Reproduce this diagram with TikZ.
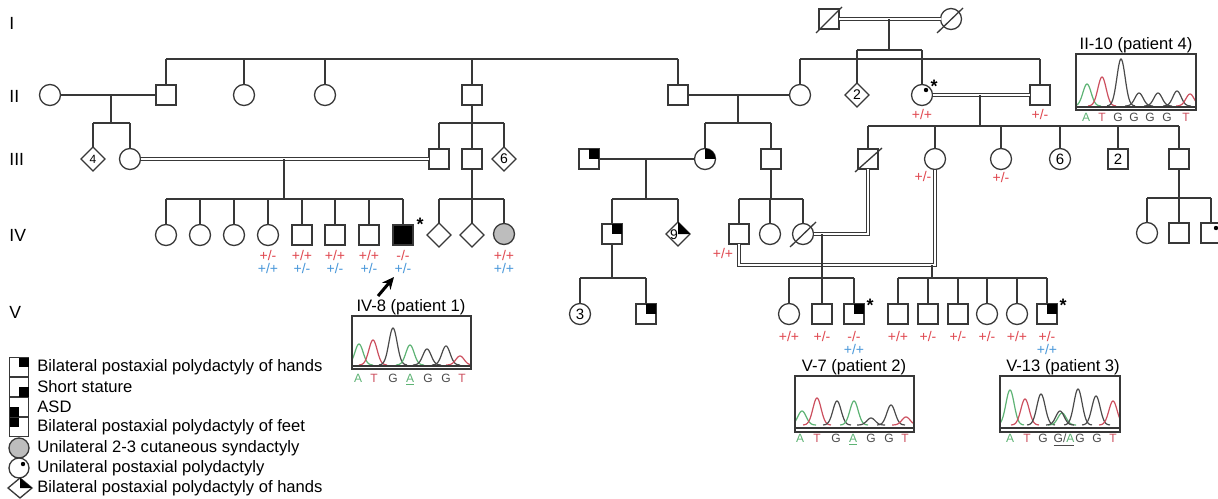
\documentclass[tikz,border=0pt]{standalone}
\usepackage{fontspec}
\setmainfont{Liberation Sans}
\usetikzlibrary{shapes.geometric,calc,arrows.meta}
\definecolor{lc}{HTML}{383838}
\definecolor{gred}{HTML}{E04850}
\definecolor{gblue}{HTML}{4A98DA}
\definecolor{cgreen}{HTML}{5DB374}
\definecolor{cred}{HTML}{CC4F5E}
\definecolor{cgrey}{HTML}{4A4A4A}
\definecolor{sgrey}{HTML}{BDBDBD}
\newcommand\pk[4]{%
 \pgfmathsetmacro\pka{#2-14}\pgfmathsetmacro\pkb{#2+14}%
 \draw[#1,line width=0.6pt] plot[domain=\pka:\pkb,samples=41,smooth] (\x,{#4-#3*exp(-(\x-#2)*(\x-#2)/34)});}
\begin{document}
\begin{tikzpicture}[x=0.5pt,y=-0.5pt,
 pl/.style={draw=lc,line width=0.65pt},
 dbl/.style={draw=lc,line width=0.5pt,double=white,double distance=0.9pt},
 sym/.style={draw=lc,line width=0.65pt,fill=white,inner sep=0pt,outer sep=0pt},
 sq/.style={sym,rectangle,minimum size=10pt},
 ci/.style={sym,circle,minimum size=10.5pt},
 di/.style={sym,diamond,minimum width=12pt,minimum height=12pt},
 num/.style={font=\fontsize{7}{8}\selectfont},
 gr/.style={font=\fontsize{7}{8}\selectfont,text=gred,inner sep=0pt},
 gb/.style={font=\fontsize{7}{8}\selectfont,text=gblue,inner sep=0pt},
 genl/.style={font=\fontsize{8.8}{10}\selectfont,anchor=west,inner sep=0pt},
 legt/.style={font=\fontsize{8.3}{10}\selectfont,anchor=west,inner sep=0pt},
 astr/.style={font=\bfseries\fontsize{9}{10}\selectfont,inner sep=0pt},
 ttl/.style={font=\fontsize{8.3}{10}\selectfont,anchor=south,inner sep=0.3pt},
 bl/.style={font=\fontsize{6}{7}\selectfont,inner sep=0pt,anchor=base},
 cbox/.style={draw=lc,line width=0.85pt},
]
\fill[white] (0,0) rectangle (1218,498);
\useasboundingbox (0,0) rectangle (1218,498);

% helper coordinates
\coordinate (yA) at (0,59);
\coordinate (yB) at (0,50);
\coordinate (yC) at (0,123);
\coordinate (yD) at (0,126);
\coordinate (yE) at (0,199);
\coordinate (yE2) at (0,198);
\coordinate (yF) at (0,278);
\coordinate (yG) at (0,265);

% generation labels
\node[genl] (gI) at (9,23) {I};
\node[genl] (gII) at (9,96) {II};
\node[genl] (gIII) at (9,159) {III};
\node[genl] (gIV) at (9,235) {IV};
\node[genl] (gV) at (9,312) {V};

% Generation I
\node[sq] (I1) at (829,19) {};
\node[ci] (I2) at (951,19) {};

% Generation II
\node[ci] (IIa) at (50,95) {};
\node[sq] (IIb) at (166,95) {};
\node[ci] (IIc) at (244,95) {};
\node[ci] (IId) at (325,95) {};
\node[sq] (IIe) at (472,95) {};
\node[sq] (IIf) at (678,95) {};
\node[ci] (IIg) at (800,95) {};
\node[di,num] (IIh) at (857,95) {2};
\node[ci] (IIi) at (922,95) {};
\node[sq] (IIj) at (1040,95) {};

% Generation III
\node[di,font=\fontsize{6}{7}\selectfont] (IIIa) at (93,159) {4};
\node[ci] (IIIb) at (130,159) {};
\node[sq] (IIIc) at (439,159) {};
\node[sq] (IIId) at (472,159) {};
\node[di,num] (IIIe) at (504,159) {6};
\node[sq] (IIIf) at (589,159) {};
\node[ci] (IIIg) at (705,159) {};
\node[sq] (IIIh) at (771,159) {};
\node[sq] (IIIi) at (868,159) {};
\node[ci] (IIIj) at (935,159) {};
\node[ci] (IIIk) at (1001,159) {};
\node[ci,font=\fontsize{7.5}{8}\selectfont] (IIIl) at (1060,159) {6};
\node[sq,font=\fontsize{7.5}{8}\selectfont] (IIIm) at (1118,159) {2};
\node[sq] (IIIn) at (1179,159) {};

% Generation IV
\node[ci] (IVa) at (166,235) {};
\node[ci] (IVb) at (200,235) {};
\node[ci] (IVc) at (234,235) {};
\node[ci] (IVd) at (268,235) {};
\node[sq] (IVe) at (302,235) {};
\node[sq] (IVf) at (335,235) {};
\node[sq] (IVg) at (369,235) {};
\node[sq,fill=black] (IVh) at (403,235) {};
\node[di] (IVi) at (439,235) {};
\node[di] (IVj) at (472,235) {};
\node[ci,fill=sgrey] (IVk) at (504,234) {};
\node[sq] (IVl) at (612,234) {};
\node[di] (IVm) at (678,234) {};
\node[sq] (IVn) at (739,234) {};
\node[ci] (IVo) at (770,234) {};
\node[ci] (IVp) at (803,234) {};
\node[ci] (IVq) at (1147,233) {};
\node[sq] (IVr) at (1179,233) {};
\node[sq] (IVs) at (1211,233) {};

% Generation V
\node[ci,font=\fontsize{7.5}{8}\selectfont] (Va) at (580,314) {3};
\node[sq] (Vb) at (646,314) {};
\node[ci] (Vc) at (789,314) {};
\node[sq] (Vd) at (822,314) {};
\node[sq] (Ve) at (854,314) {};
\node[sq] (Vf) at (898,314) {};
\node[sq] (Vg) at (928,314) {};
\node[sq] (Vh) at (958,314) {};
\node[ci] (Vi) at (987,314) {};
\node[ci] (Vj) at (1017,314) {};
\node[sq] (Vk) at (1047,314) {};

% ---- connectors ----
\draw[dbl] (I1.east) -- (I2.west);
\coordinate (mI) at (889,19);
\draw[pl] (mI) -- (mI |- yB);
\draw[pl] (IIh.north |- yB) -- (IIi.north |- yB);
\foreach \n in {IIh,IIi} \draw[pl] (\n.north) -- (\n.north |- yB);
\draw[pl] (IIb.north |- yA) -- (IIf.north |- yA);
\foreach \n in {IIb,IIc,IId,IIe,IIf} \draw[pl] (\n.north) -- (\n.north |- yA);
\draw[pl] (IIg.north |- yA) -- (IIj.north |- yA);
\foreach \n in {IIg,IIj} \draw[pl] (\n.north) -- (\n.north |- yA);

\draw[pl] (IIa.east) -- (IIb.west);
\coordinate (m1) at (111,95);
\draw[pl] (m1) -- (m1 |- yC);
\draw[pl] (IIIa.north |- yC) -- (IIIb.north |- yC);
\foreach \n in {IIIa,IIIb} \draw[pl] (\n.north) -- (\n.north |- yC);
\draw[pl] (IIe.south) -- (IIId.north);
\draw[pl] (IIIc.north |- yC) -- (IIIe.north |- yC);
\foreach \n in {IIIc,IIIe} \draw[pl] (\n.north) -- (\n.north |- yC);
\draw[pl] (IIf.east) -- (IIg.west);
\coordinate (m2) at (738,95);
\draw[pl] (m2) -- (m2 |- yC);
\draw[pl] (IIIg.north |- yC) -- (IIIh.north |- yC);
\foreach \n in {IIIg,IIIh} \draw[pl] (\n.north) -- (\n.north |- yC);
\draw[dbl] (IIi.east) -- (IIj.west);
\coordinate (m3) at (980,95);
\draw[pl] (m3) -- (m3 |- yD);
\draw[pl] (IIIi.north |- yD) -- (IIIn.north |- yD);
\foreach \n in {IIIi,IIIj,IIIk,IIIl,IIIm,IIIn} \draw[pl] (\n.north) -- (\n.north |- yD);

\draw[dbl] (IIIb.east) -- (IIIc.west);
\coordinate (m4) at (284,159);
\draw[pl] (m4) -- (m4 |- yE);
\draw[pl] (IVa.north |- yE) -- (IVh.north |- yE);
\foreach \n in {IVa,IVb,IVc,IVd,IVe,IVf,IVg,IVh} \draw[pl] (\n.north) -- (\n.north |- yE);
\draw[pl] (IIId.south) -- (IIId.south |- yE);
\draw[pl] (IVi.north |- yE) -- (IVk.north |- yE);
\foreach \n in {IVi,IVj,IVk} \draw[pl] (\n.north) -- (\n.north |- yE);
\draw[pl] (IIIf.east) -- (IIIg.west);
\coordinate (m5) at (646,159);
\draw[pl] (m5) -- (m5 |- yE);
\draw[pl] (IVl.north |- yE) -- (IVm.north |- yE);
\foreach \n in {IVl,IVm} \draw[pl] (\n.north) -- (\n.north |- yE);
\draw[pl] (IIIh.south) -- (IIIh.south |- yE);
\draw[pl] (IVn.north |- yE) -- (IVp.north |- yE);
\foreach \n in {IVn,IVo,IVp} \draw[pl] (\n.north) -- (\n.north |- yE);
\draw[pl] (IIIn.south) -- (IIIn.south |- yE2);
\draw[pl] (IVq.north |- yE2) -- (IVs.north |- yE2);
\foreach \n in {IVq,IVr,IVs} \draw[pl] (\n.north) -- (\n.north |- yE2);

\draw[dbl] (IIIi.south) -- (IIIi.south |- IVp.east) -- (IVp.east);
\draw[dbl] (IVn.south) -- (IVn.south |- yG) -- (IIIj.south |- yG) -- (IIIj.south);
\coordinate (m6) at (822,234);
\draw[pl] (m6) -- (m6 |- yF);
\draw[pl] (Vc.north |- yF) -- (Ve.north |- yF);
\foreach \n in {Vc,Vd,Ve} \draw[pl] (\n.north) -- (\n.north |- yF);
\coordinate (m7) at (932,265);
\draw[pl] (m7) -- (m7 |- yF);
\draw[pl] (Vf.north |- yF) -- (Vk.north |- yF);
\foreach \n in {Vf,Vg,Vh,Vi,Vj,Vk} \draw[pl] (\n.north) -- (\n.north |- yF);
\draw[pl] (IVl.south) -- (IVl.south |- yF);
\draw[pl] (Va.north |- yF) -- (Vb.north |- yF);
\foreach \n in {Va,Vb} \draw[pl] (\n.north) -- (\n.north |- yF);

% ---- affection marks ----
\foreach \n in {IIIf,IVl,Vb,Ve,Vk} \fill[black] (\n.center) rectangle (\n.north east);
\begin{scope}
 \clip (IIIg.center) circle (5.25pt);
 \fill[black] (IIIg.center) rectangle ($(IIIg.center)+(12,-12)$);
\end{scope}
\fill[black] (IVm.center) -- (IVm.north) -- (IVm.east) -- cycle;
\node[num,inner sep=0pt] (n9) at (674,235) {9};
\fill[black] ($(IIi.center)+(4,-5)$) circle (1.1pt);
\fill[black] ($(IVs.center)+(5,-5)$) circle (1.1pt);

% deceased slashes
\draw[pl] ($(I1.center)+(-13,14)$) -- ($(I1.center)+(13,-12)$);
\draw[pl] ($(I2.center)+(-14,14)$) -- ($(I2.center)+(12,-11)$);
\draw[pl] ($(IIIi.center)+(-13,13)$) -- ($(IIIi.center)+(14,-11)$);
\draw[pl] ($(IVp.center)+(-13,13)$) -- ($(IVp.center)+(13,-12)$);

% stars
\node[astr] (s1) at (934,86) {*};
\node[astr] (s2) at (420,224) {*};
\node[astr] (s3) at (870,305) {*};
\node[astr] (s4) at (1063,305) {*};

% genotypes
\node[gr] (a1) at (922,114) {+/+};
\node[gr] (a2) at (1040,114) {+/-};
\node[gr] (a3) at (923,176) {+/-};
\node[gr] (a4) at (1001,177) {+/-};
\node[gr] (b1) at (268,255) {+/-};
\node[gr] (b2) at (302,255) {+/+};
\node[gr] (b3) at (335,255) {+/+};
\node[gr] (b4) at (369,255) {+/+};
\node[gr] (b5) at (403,255) {-/-};
\node[gr] (b6) at (504,255) {+/+};
\node[gr] (b7) at (723,253) {+/+};
\node[gb] (c1) at (268,268) {+/+};
\node[gb] (c2) at (302,268) {+/-};
\node[gb] (c3) at (335,268) {+/-};
\node[gb] (c4) at (369,268) {+/-};
\node[gb] (c5) at (403,268) {+/-};
\node[gb] (c6) at (504,268) {+/+};
\node[gr] (d1) at (789,336) {+/+};
\node[gr] (d2) at (822,336) {+/-};
\node[gr] (d3) at (854,336) {-/-};
\node[gr] (d4) at (898,336) {+/+};
\node[gr] (d5) at (928,336) {+/-};
\node[gr] (d6) at (958,336) {+/-};
\node[gr] (d7) at (987,336) {+/-};
\node[gr] (d8) at (1017,336) {+/+};
\node[gr] (d9) at (1047,336) {+/-};
\node[gb] (e1) at (854,349) {+/+};
\node[gb] (e2) at (1047,349) {+/+};

% arrow to IV-8
\coordinate (arA) at (378,296);
\coordinate (arB) at (394,277);
\draw[line width=1.5pt,-{Stealth[length=6pt,width=5.5pt]}] (arA) -- (arB);

% ---- chromatogram II-10 ----
\node[ttl] (t4) at (1136,54) {II-10 (patient 4)};
\begin{scope}
\clip (1076,54) rectangle (1196,110);
\pk{cgreen}{1087}{22}{106}
\pk{cred}{1102}{29}{106}
\pk{cgrey}{1121}{47}{106}
\pk{cgrey}{1139}{13}{106}
\pk{cgrey}{1158}{13}{106}
\pk{cgrey}{1177}{15}{106}
\pk{cred}{1190}{12}{106}
\end{scope}
\draw[cbox] (1076,54) rectangle (1196,110);
\draw[cbox] (1076,107) -- (1196,107);
\node[bl,text=cgreen] (q1) at (1086,121) {A};
\node[bl,text=cred] (q2) at (1102,121) {T};
\node[bl,text=cgrey] (q3) at (1118,121) {G};
\node[bl,text=cgrey] (q4) at (1134,121) {G};
\node[bl,text=cgrey] (q5) at (1150,121) {G};
\node[bl,text=cgrey] (q6) at (1167,121) {G};
\node[bl,text=cred] (q7) at (1186,121) {T};

% ---- chromatogram IV-8 ----
\node[ttl] (t1) at (411,316) {IV-8 (patient 1)};
\begin{scope}
\clip (352,316) rectangle (471,369);
\pk{cgreen}{359}{21}{365}
\pk{cred}{373}{25}{365}
\pk{cgrey}{393}{37}{365}
\pk{cgreen}{410}{20}{365}
\pk{cgrey}{427}{16}{365}
\pk{cgrey}{446}{19}{365}
\pk{cred}{460}{9}{365}
\end{scope}
\draw[cbox] (352,316) rectangle (471,369);
\draw[cbox] (352,366) -- (471,366);
\node[bl,text=cgreen] (r1) at (358,382) {A};
\node[bl,text=cred] (r2) at (374,382) {T};
\node[bl,text=cgrey] (r3) at (393,382) {G};
\node[bl,text=cgreen] (r4) at (410,382) {\underline{A}};
\node[bl,text=cgrey] (r5) at (428,382) {G};
\node[bl,text=cgrey] (r6) at (446,382) {G};
\node[bl,text=cred] (r7) at (462,382) {T};

% ---- chromatogram V-7 ----
\node[ttl] (t2) at (854,376) {V-7 (patient 2)};
\begin{scope}
\clip (795,376) rectangle (914,432);
\pk{cgreen}{802}{14}{425}
\pk{cred}{817}{27}{425}
\pk{cgrey}{837}{24}{425}
\pk{cgreen}{854}{24}{425}
\pk{cgrey}{871}{7}{425}
\pk{cgrey}{891}{20}{425}
\pk{cred}{906}{8}{425}
\end{scope}
\draw[cbox] (795,376) rectangle (914,432);
\draw[cbox] (795,428) -- (914,428);
\node[bl,text=cgreen] (u1) at (800,442) {A};
\node[bl,text=cred] (u2) at (817,442) {T};
\node[bl,text=cgrey] (u3) at (836,442) {G};
\node[bl,text=cgreen] (u4) at (853,442) {\underline{A}};
\node[bl,text=cgrey] (u5) at (871,442) {G};
\node[bl,text=cgrey] (u6) at (889,442) {G};
\node[bl,text=cred] (u7) at (905,442) {T};

% ---- chromatogram V-13 ----
\node[ttl] (t3) at (1063,376) {V-13 (patient 3)};
\begin{scope}
\clip (1000,376) rectangle (1120,432);
\pk{cgreen}{1010}{35}{425}
\pk{cred}{1025}{26}{425}
\pk{cgrey}{1041}{31}{425}
\pk{cgreen}{1062}{12}{425}
\pk{cgrey}{1060}{14}{425}
\pk{cgrey}{1078}{36}{425}
\pk{cgrey}{1096}{29}{425}
\pk{cred}{1113}{24}{425}
\end{scope}
\draw[cbox] (1000,376) rectangle (1120,432);
\draw[cbox] (1000,428) -- (1120,428);
\node[bl,text=cgreen] (w1) at (1010,442) {A};
\node[bl,text=cred] (w2) at (1027,442) {T};
\node[bl,text=cgrey] (w3) at (1043,442) {G};
\node[bl,text=cgrey] (w4) at (1064,442) {\underline{G/\textcolor{cgreen}{A}}};
\node[bl,text=cgrey] (w5) at (1080,442) {G};
\node[bl,text=cgrey] (w6) at (1097,442) {G};
\node[bl,text=cred] (w7) at (1113,442) {T};

% ---- legend ----
\node[sq,minimum size=9.5pt] (L1) at (19,367) {};
\fill[black] (L1.center) rectangle (L1.north east);
\node[sq,minimum size=9.5pt] (L2) at (19,387) {};
\fill[black] (L2.center) rectangle (L2.south east);
\node[sq,minimum size=9.5pt] (L3) at (19,407) {};
\fill[black] (L3.center) rectangle (L3.south west);
\node[sq,minimum size=9.5pt] (L4) at (19,427) {};
\fill[black] (L4.center) rectangle (L4.north west);
\node[ci,minimum size=10pt,fill=sgrey] (L5) at (19,448) {};
\node[ci,minimum size=10pt] (L6) at (19,468) {};
\fill[black] ($(L6.center)+(4,-4)$) circle (1.1pt);
\node[di,minimum width=12pt,minimum height=10pt] (L7) at (20,488) {};
\fill[black] (L7.center) -- (L7.north) -- (L7.east) -- cycle;
\node[legt] (LT1) at (37,367) {Bilateral postaxial polydactyly of hands};
\node[legt] (LT2) at (37,387) {Short stature};
\node[legt] (LT3) at (37,407) {ASD};
\node[legt] (LT4) at (37,427) {Bilateral postaxial polydactyly of feet};
\node[legt] (LT5) at (37,448) {Unilateral 2-3 cutaneous syndactyly};
\node[legt] (LT6) at (37,468) {Unilateral postaxial polydactyly};
\node[legt] (LT7) at (37,488) {Bilateral postaxial polydactyly of hands};
\end{tikzpicture}
\end{document}
